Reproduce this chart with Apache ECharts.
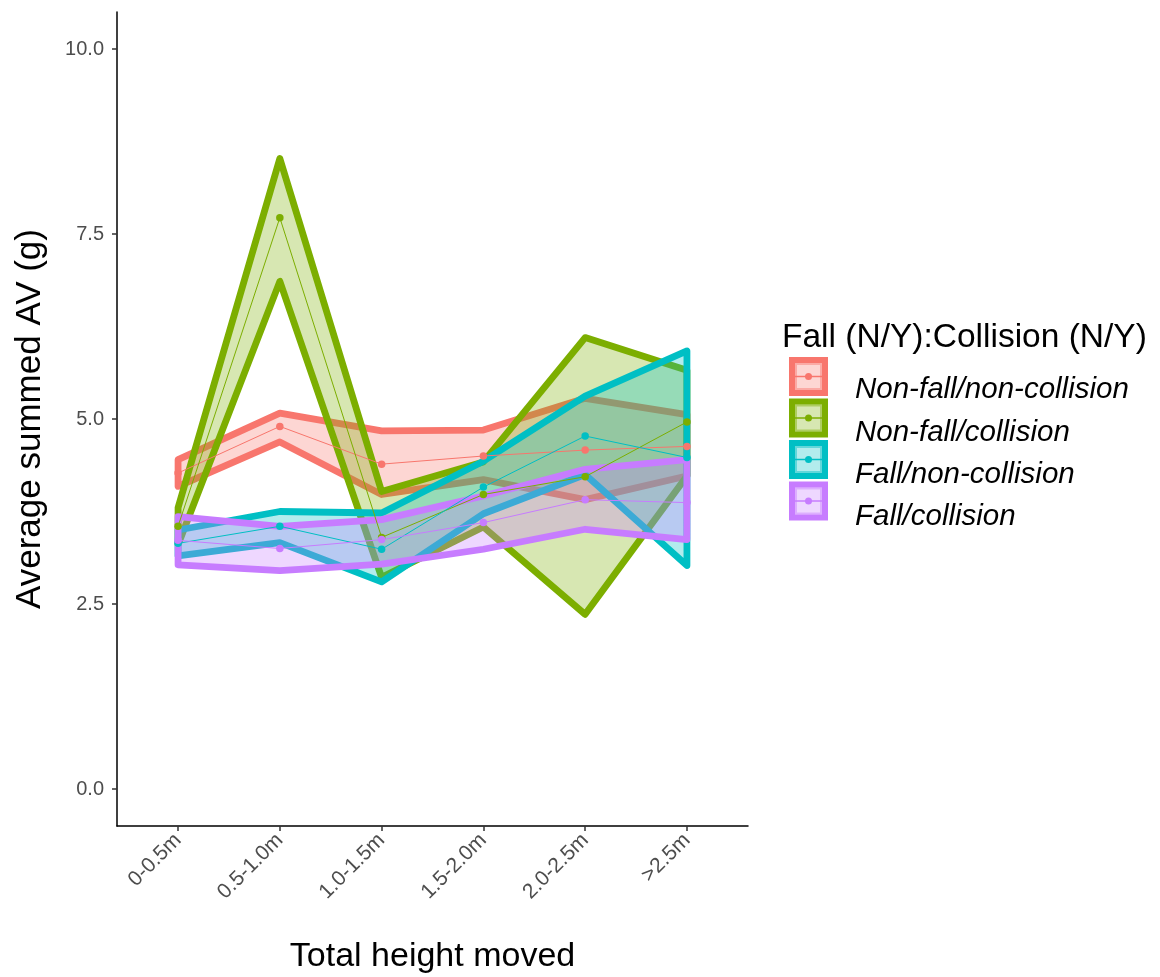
<!DOCTYPE html>
<html>
<head>
<meta charset="utf-8">
<title>Average summed AV by total height moved</title>
<script src="https://cdn.jsdelivr.net/npm/echarts@6/dist/echarts.min.js"></script>
<style>
  html, body { margin: 0; padding: 0; background: #ffffff; }
  #chart { width: 1160px; height: 977px; }
</style>
</head>
<body>
<div id="chart"></div>
<script>
// Height bands on the x axis
const categories = ['0-0.5m', '0.5-1.0m', '1.0-1.5m', '1.5-2.0m', '2.0-2.5m', '>2.5m'];

// Group labels and colours
const groupNames = ['Non-fall/non-collision', 'Non-fall/collision', 'Fall/non-collision', 'Fall/collision'];
const groupColors = ['#F8766D', '#7CAE00', '#00BFC4', '#C77CFF'];

// Mean summed AV (g) per height band
const meanNonFallNonColl = [4.27, 4.90, 4.39, 4.50, 4.58, 4.63];
const meanNonFallColl    = [3.55, 7.72, 3.40, 3.98, 4.22, 4.96];
const meanFallNonColl    = [3.32, 3.55, 3.24, 4.08, 4.77, 4.48];
const meanFallColl       = [3.36, 3.25, 3.37, 3.60, 3.91, 3.87];

// Lower ribbon bound
const lowerNonFallNonColl = [4.09, 4.69, 3.98, 4.18, 3.91, 4.23];
const lowerNonFallColl    = [3.30, 6.86, 2.86, 3.54, 2.36, 4.23];
const lowerFallNonColl    = [3.15, 3.33, 2.80, 3.72, 4.25, 3.02];
const lowerFallColl       = [3.03, 2.95, 3.04, 3.24, 3.51, 3.37];

// Upper ribbon bound
const upperNonFallNonColl = [4.45, 5.08, 4.84, 4.85, 5.28, 5.06];
const upperNonFallColl    = [3.80, 8.52, 4.02, 4.42, 6.10, 5.66];
const upperFallNonColl    = [3.50, 3.75, 3.73, 4.43, 5.31, 5.92];
const upperFallColl       = [3.68, 3.55, 3.64, 3.96, 4.32, 4.45];

// Axis tick values
const yTicks = [0, 2.5, 5, 7.5, 10];
const xTicks = [0, 1, 2, 3, 4, 5];

const means = [meanNonFallNonColl, meanNonFallColl, meanFallNonColl, meanFallColl];
const lowers = [lowerNonFallNonColl, lowerNonFallColl, lowerFallNonColl, lowerFallColl];
const uppers = [upperNonFallNonColl, upperNonFallColl, upperFallNonColl, upperFallColl];

function rgba(hex, a) {
  const n = parseInt(hex.slice(1), 16);
  return 'rgba(' + ((n >> 16) & 255) + ',' + ((n >> 8) & 255) + ',' + (n & 255) + ',' + a + ')';
}

const FONT = '"Liberation Sans", Arial, sans-serif';
const RIBBON_W = 6.8;

// Each ribbon is one closed polygon: upper edge left-to-right, lower edge back.
function ribbonSeries(g) {
  const data = categories.map((c, i) => [i, lowers[g][i], uppers[g][i]]);
  return {
    type: 'custom',
    name: groupNames[g],
    data: data,
    encode: { x: 0, y: [1, 2] },
    clip: true,
    renderItem: function (params, api) {
      if (params.dataIndex !== 0) return null;
      const pts = [];
      for (let i = 0; i < data.length; i++) pts.push(api.coord([data[i][0], data[i][2]]));
      for (let i = data.length - 1; i >= 0; i--) pts.push(api.coord([data[i][0], data[i][1]]));
      return {
        type: 'polygon',
        shape: { points: pts },
        style: {
          fill: rgba(groupColors[g], 0.3),
          stroke: groupColors[g],
          lineWidth: RIBBON_W,
          lineJoin: 'round'
        }
      };
    },
    z: 2
  };
}

function meanSeries(g) {
  return {
    type: 'line',
    name: groupNames[g] + ' mean',
    data: categories.map((c, i) => [i, means[g][i]]),
    symbol: 'circle',
    symbolSize: 7.5,
    showSymbol: true,
    lineStyle: { color: groupColors[g], width: 1 },
    itemStyle: { color: groupColors[g] },
    z: 3
  };
}

const series = [];
for (let g = 0; g < 4; g++) series.push(ribbonSeries(g));
for (let g = 0; g < 4; g++) series.push(meanSeries(g));

// Legend drawn as graphic elements (ribbon key + line/point glyph + label)
const legendGraphics = [];
legendGraphics.push({
  type: 'text', left: 782, top: 321,
  style: { text: 'Fall (N/Y):Collision (N/Y)', font: '33.5px ' + FONT, fill: '#000000' }
});
for (let g = 0; g < 4; g++) {
  const ky = 360 + g * 41.5;
  const kx = 792;
  const ks = 33;
  legendGraphics.push({
    type: 'rect',
    shape: { x: kx, y: ky, width: ks, height: ks },
    style: { fill: rgba(groupColors[g], 0.3), stroke: groupColors[g], lineWidth: 6 }
  });
  legendGraphics.push({
    type: 'rect',
    shape: { x: kx + 4, y: ky + 4, width: ks - 8, height: ks - 8 },
    style: { fill: 'none', stroke: rgba(groupColors[g], 0.45), lineWidth: 2 }
  });
  legendGraphics.push({
    type: 'line',
    shape: { x1: kx + 3, y1: ky + ks / 2, x2: kx + ks - 3, y2: ky + ks / 2 },
    style: { stroke: groupColors[g], lineWidth: 1.5 }
  });
  legendGraphics.push({
    type: 'circle',
    shape: { cx: kx + ks / 2, cy: ky + ks / 2, r: 3.5 },
    style: { fill: groupColors[g] }
  });
  legendGraphics.push({
    type: 'text', left: 855, top: 375 + g * 42.4,
    style: { text: groupNames[g], font: 'italic 29.5px ' + FONT, fill: '#000000' }
  });
}

const chart = echarts.init(document.getElementById('chart'), null, { renderer: 'canvas' });
chart.setOption({
  animation: false,
  backgroundColor: '#ffffff',
  grid: { left: 117, top: 12, width: 631, height: 814, containLabel: false, outerBoundsMode: 'none' },
  xAxis: {
    type: 'value',
    min: -0.6,
    max: 5.6,
    name: 'Total height moved',
    nameLocation: 'middle',
    nameGap: 114,
    nameTextStyle: { fontFamily: FONT, fontSize: 34, color: '#000000' },
    axisLine: { show: true, onZero: false, lineStyle: { color: '#000000', width: 1.5 } },
    axisTick: { show: true, length: 5, customValues: xTicks, lineStyle: { color: '#333333', width: 1.5 } },
    axisLabel: {
      customValues: xTicks,
      rotate: 45,
      margin: 11,
      fontFamily: FONT,
      fontSize: 21,
      color: '#4D4D4D',
      formatter: function (v) { return categories[Math.round(v)]; }
    },
    splitLine: { show: false }
  },
  yAxis: {
    type: 'value',
    min: -0.5,
    max: 10.5,
    name: 'Average summed AV (g)',
    nameLocation: 'middle',
    nameGap: 69,
    nameTextStyle: { fontFamily: FONT, fontSize: 35, color: '#000000' },
    axisLine: { show: true, onZero: false, lineStyle: { color: '#000000', width: 1.5 } },
    axisTick: { show: true, length: 5, customValues: yTicks, lineStyle: { color: '#333333', width: 1.5 } },
    axisLabel: {
      customValues: yTicks,
      margin: 13,
      fontFamily: FONT,
      fontSize: 20,
      color: '#4D4D4D',
      formatter: function (v) { return v.toFixed(1); }
    },
    splitLine: { show: false }
  },
  graphic: legendGraphics,
  series: series
});
</script>
</body>
</html>
